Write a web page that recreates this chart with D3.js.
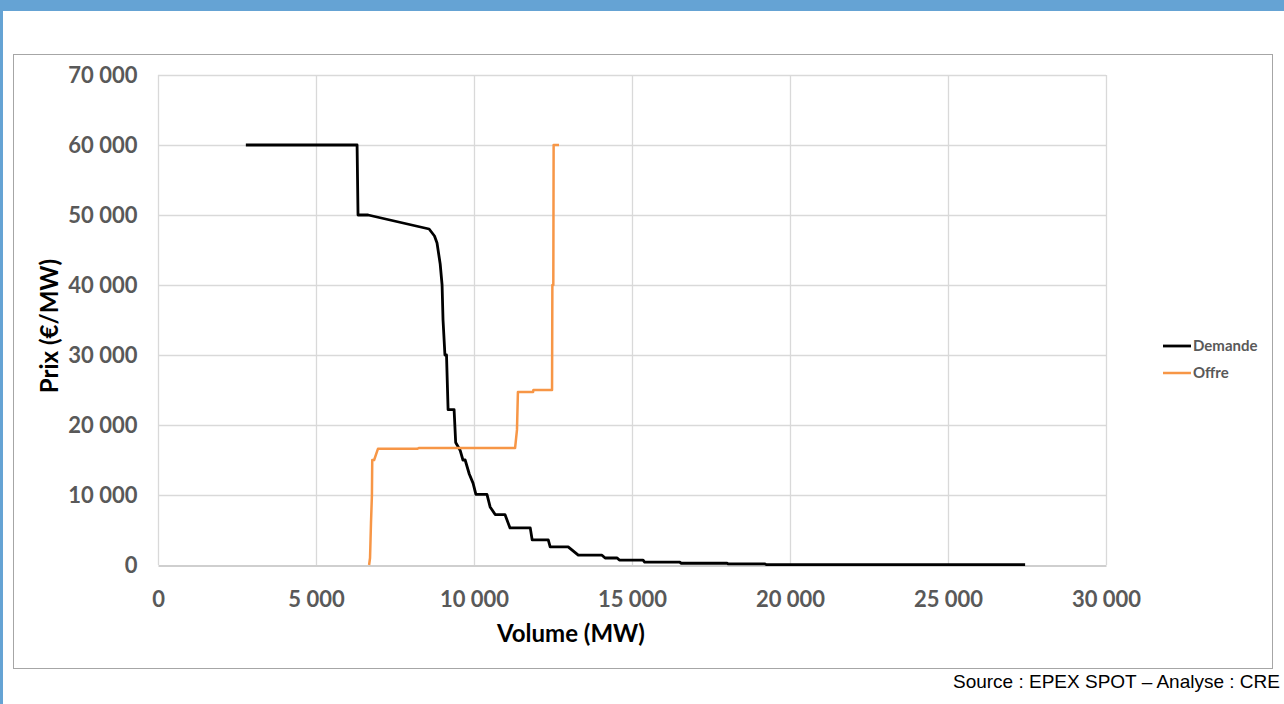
<!DOCTYPE html>
<html>
<head>
<meta charset="utf-8">
<script src="https://cdn.jsdelivr.net/npm/d3@7"></script>
<style>
  body { margin: 0; background: #fff; }
  svg { display: block; }
</style>
</head>
<body>
<div id="chart"></div>
<script>
// price / volume points (volume MW, price €/MW)
var demande = [
  [2780, 60000], [6300, 60000], [6330, 50000], [6650, 50000], [8580, 48000],
  [8750, 47000], [8830, 46000], [8930, 43000], [8990, 40000], [9020, 35000],
  [9080, 30000], [9130, 30000], [9180, 22200], [9370, 22200], [9420, 17500],
  [9560, 16400], [9650, 15000], [9720, 15000], [9850, 13000], [9970, 11700],
  [10060, 10100], [10410, 10100], [10510, 8300], [10670, 7200], [10980, 7200],
  [11140, 5300], [11780, 5300], [11840, 3600], [12350, 3600], [12410, 2600],
  [12980, 2600], [13300, 1400], [14050, 1400], [14150, 1000], [14530, 1000],
  [14600, 700], [15350, 700], [15400, 400], [16520, 400], [16550, 250],
  [18010, 250], [18050, 150], [19210, 150], [19250, 50], [27440, 50]
];
var offre = [
  [6680, 0], [6710, 1000], [6740, 6000], [6770, 10000], [6780, 15000],
  [6840, 15000], [6930, 16200], [6960, 16600], [8200, 16600], [8250, 16700],
  [11300, 16700], [11360, 19300], [11390, 24700], [11870, 24700], [11880, 25000],
  [12470, 25000], [12480, 40000], [12510, 40000], [12520, 60000], [12690, 60000]
];
var xTicks = [0, 5000, 10000, 15000, 20000, 25000, 30000];
var yTicks = [0, 10000, 20000, 30000, 40000, 50000, 60000, 70000];
var seriesNames = ["Demande", "Offre"];
var seriesColors = ["#000000", "#F79646"];
var seriesWidths = [2.8, 2.5];

var W = 1284, H = 704;
var svg = d3.select("#chart").append("svg")
    .attr("width", W)
    .attr("height", H);

// page decoration: blue header band and left strip
svg.append("rect").attr("x", 0).attr("y", 0).attr("width", W).attr("height", 11).attr("fill", "#65A3D4");
svg.append("rect").attr("x", 0).attr("y", 0).attr("width", 3).attr("height", H).attr("fill", "#65A3D4");

// chart frame
svg.append("rect")
    .attr("x", 13.5).attr("y", 54.5)
    .attr("width", 1259).attr("height", 614)
    .attr("fill", "#fff")
    .attr("stroke", "#A6A6A6");

var xScale = d3.scaleLinear().domain([0, 30000]).range([158, 1106]);
var yScale = d3.scaleLinear().domain([0, 70000]).range([565, 75]);

var fmt = function(d) { return d3.format(",")(d).replace(/,/g, " "); };
var tickFont = "Lato, 'Open Sans', sans-serif";

// gridlines
svg.append("g")
    .selectAll("line.h")
    .data(yTicks.filter(function(d) { return d > 0; }))
    .enter().append("line")
    .attr("x1", xScale(0)).attr("x2", xScale(30000))
    .attr("y1", function(d) { return Math.round(yScale(d)) + 0.5; })
    .attr("y2", function(d) { return Math.round(yScale(d)) + 0.5; })
    .attr("stroke", "#D9D9D9").attr("stroke-width", 1.3);

svg.append("g")
    .selectAll("line.v")
    .data(xTicks)
    .enter().append("line")
    .attr("y1", yScale(0)).attr("y2", yScale(70000))
    .attr("x1", function(d) { return Math.round(xScale(d)) + 0.5; })
    .attr("x2", function(d) { return Math.round(xScale(d)) + 0.5; })
    .attr("stroke", "#D9D9D9").attr("stroke-width", 1.3);

// x axis
var xAxis = svg.append("g")
    .attr("transform", "translate(0," + (Math.round(yScale(0)) + 0.5) + ")")
    .call(d3.axisBottom(xScale).tickValues(xTicks).tickFormat(fmt).tickSize(0).tickPadding(26));
xAxis.select(".domain").attr("stroke", "#BFBFBF").attr("stroke-width", 1.3);
xAxis.selectAll("text")
    .style("font-family", tickFont).style("font-weight", "bold")
    .style("font-size", "22px").attr("fill", "#595959");

// y axis
var yAxis = svg.append("g")
    .attr("transform", "translate(" + (Math.round(xScale(0)) + 0.5) + ",0)")
    .call(d3.axisLeft(yScale).tickValues(yTicks).tickFormat(fmt).tickSize(0).tickPadding(21));
yAxis.select(".domain").remove();
yAxis.selectAll("text")
    .style("font-family", tickFont).style("font-weight", "bold")
    .style("font-size", "22px").attr("fill", "#595959");

// axis titles
svg.append("text")
    .attr("x", 571).attr("y", 642)
    .attr("text-anchor", "middle")
    .style("font-family", tickFont).style("font-weight", "bold").style("font-size", "24px")
    .attr("fill", "#000")
    .text("Volume (MW)");

svg.append("text")
    .attr("transform", "translate(58,326) rotate(-90)")
    .attr("text-anchor", "middle")
    .style("font-family", tickFont).style("font-weight", "bold").style("font-size", "24px")
    .attr("fill", "#000")
    .text("Prix (€/MW)");

// curves
var line = d3.line()
    .x(function(d) { return xScale(d[0]); })
    .y(function(d) { return yScale(d[1]); });

[demande, offre].forEach(function(data, i) {
    svg.append("path")
        .datum(data)
        .attr("d", line)
        .attr("fill", "none")
        .attr("stroke", seriesColors[i])
        .attr("stroke-width", seriesWidths[i])
        .attr("stroke-linejoin", "round");
});

// legend
var legend = svg.append("g");
seriesNames.forEach(function(name, i) {
    var y = 346 + i * 27;
    legend.append("line")
        .attr("x1", 1163).attr("x2", 1191)
        .attr("y1", y).attr("y2", y)
        .attr("stroke", seriesColors[i]).attr("stroke-width", seriesWidths[i]);
    legend.append("text")
        .attr("x", 1193).attr("y", y + 5)
        .style("font-family", tickFont).style("font-weight", "bold").style("font-size", "15px")
        .attr("fill", "#595959")
        .text(name);
});

// source note
svg.append("text")
    .attr("x", 1280).attr("y", 688)
    .attr("text-anchor", "end")
    .style("font-family", "'Liberation Sans', Arial, sans-serif").style("font-size", "19px")
    .attr("fill", "#000")
    .text("Source : EPEX SPOT – Analyse : CRE");
</script>
</body>
</html>
